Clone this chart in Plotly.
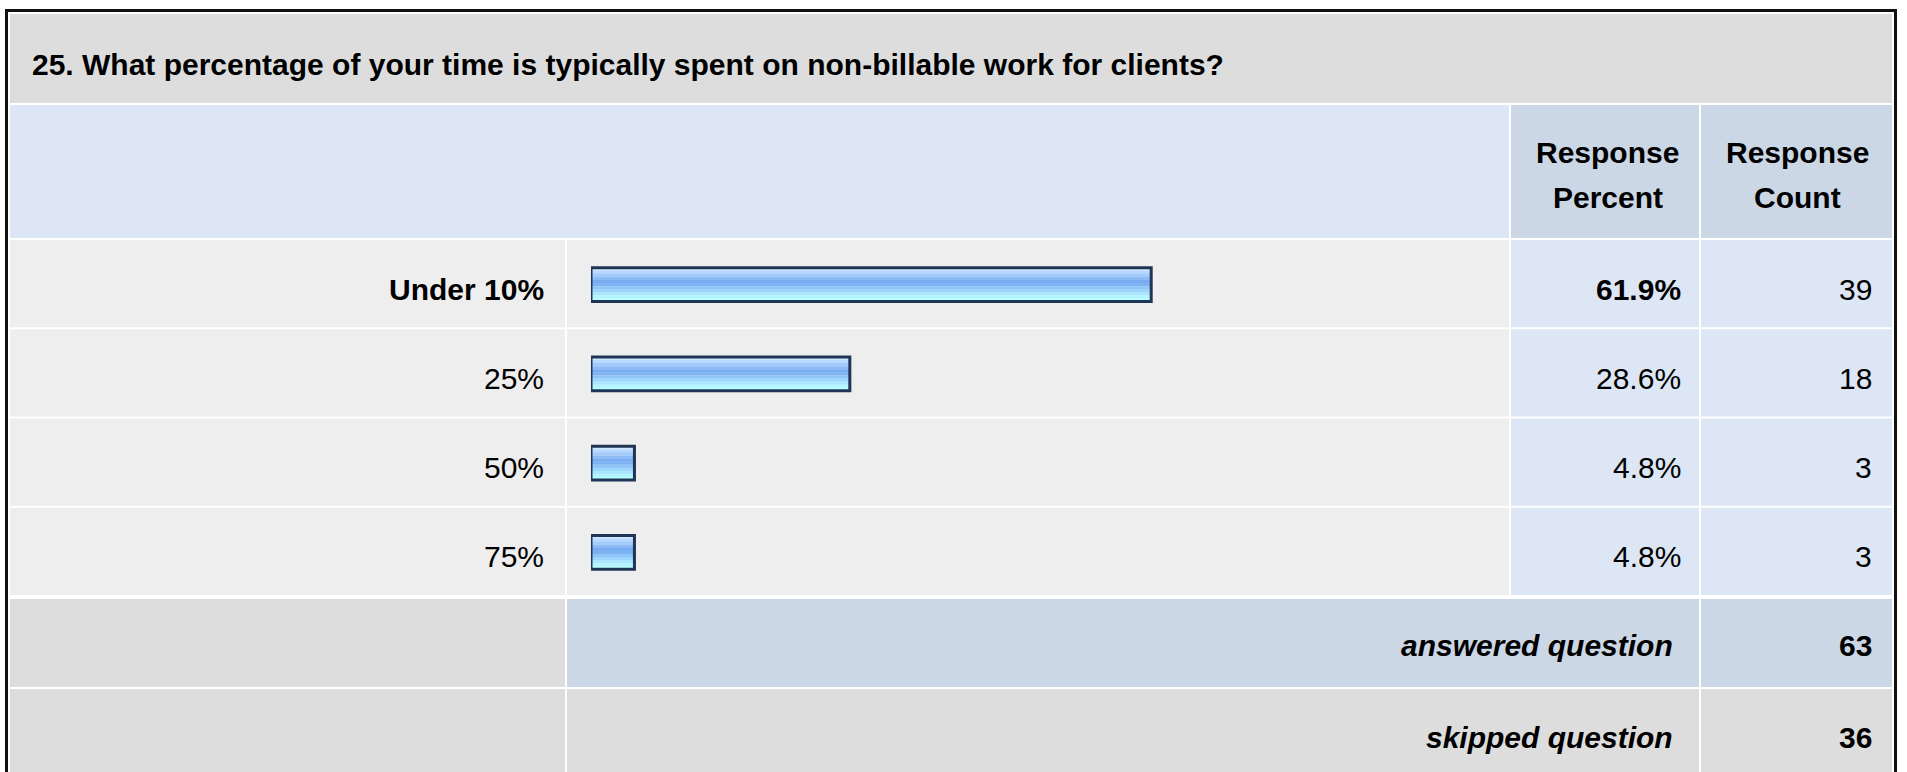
import plotly.graph_objects as go

# ---------------- data ----------------
question = "25. What percentage of your time is typically spent on non-billable work for clients?"
categories = ["Under 10%", "25%", "50%", "75%"]
percents = [61.9, 28.6, 4.8, 4.8]
counts = [39, 18, 3, 3]
answered_count = 63
skipped_count = 36
header_percent = ["Response", "Percent"]
header_count = ["Response", "Count"]

# ---------------- layout helpers ----------------
W, H = 1907, 772
FONT = "Liberation Sans, Arial, sans-serif"
FS = 30


def px(x):
    return x / W


def py(y):
    return 1 - y / H


shapes = []


def cell(x0, y0, x1, y1, color):
    shapes.append(dict(type="rect", xref="paper", yref="paper",
                       x0=px(x0), x1=px(x1), y0=py(y1), y1=py(y0),
                       fillcolor=color, line=dict(width=0), layer="below"))


GRAY = "#DDDDDD"
LIGHT = "#EEEEEE"
BLUE = "#DCE6F4"
BLUE2 = "#CBD7E5"

# column edges
L0, L1 = 10, 565
B0, B1 = 567, 1509
P0, P1 = 1511, 1699
C0, C1 = 1701, 1892

# title row
cell(L0, 14, C1, 103, GRAY)
# header row
cell(L0, 105, B1, 238, BLUE)
cell(P0, 105, P1, 238, BLUE2)
cell(C0, 105, C1, 238, BLUE2)

ROW_TOP = 240
ROW_PITCH = 89.25
n = len(categories)
for i in range(n):
    t = ROW_TOP + i * ROW_PITCH
    b = t + ROW_PITCH - 2
    cell(L0, t, L1, b, LIGHT)
    cell(B0, t, B1, b, LIGHT)
    cell(P0, t, P1, b, BLUE)
    cell(C0, t, C1, b, BLUE)

# answered row
cell(L0, 599, L1, 687, GRAY)
cell(B0, 599, P1, 687, BLUE2)
cell(C0, 599, C1, 687, BLUE2)
# skipped row
cell(L0, 689, L1, 800, GRAY)
cell(B0, 689, P1, 800, GRAY)
cell(C0, 689, C1, 800, GRAY)

# outer border
shapes.append(dict(type="rect", xref="paper", yref="paper",
                   x0=px(6.5), x1=px(1895.5), y0=py(840), y1=py(10.5),
                   line=dict(color="#111111", width=3), fillcolor="rgba(0,0,0,0)",
                   layer="above"))

# ---------------- bars (gradient via stacked overlay bands) ----------------
band_colors = ["#CFE7FF", "#B8D9FF", "#A2CAFB", "#8DBBF6", "#78ABF1",
               "#7DB2F3", "#8EC4F8", "#9DD6FC", "#A9E6FF", "#B2F5FF", "#B8FEFF"]
BAR_W = 0.38
nb = len(band_colors)
bh = BAR_W / nb

fig = go.Figure()
for k, col in enumerate(band_colors):
    fig.add_trace(go.Bar(
        x=percents, y=categories, orientation="h",
        width=[bh * 1.06] * n, offset=[-BAR_W / 2 + k * bh] * n,
        marker=dict(color=col, line=dict(width=0)),
        hoverinfo="skip", showlegend=False))
fig.add_trace(go.Bar(
    x=percents, y=categories, orientation="h",
    width=[BAR_W] * n, offset=[-BAR_W / 2] * n,
    marker=dict(color="rgba(0,0,0,0)", line=dict(color="#1E3556", width=3)),
    hoverinfo="skip", showlegend=False))

# ---------------- texts ----------------
ann = []


def text(x, y, s, anchor, bold=False, italic=False, size=FS):
    if bold:
        s = "<b>" + s + "</b>"
    if italic:
        s = "<i>" + s + "</i>"
    ann.append(dict(xref="paper", yref="paper", x=px(x), y=py(y), text=s,
                    xanchor=anchor, yanchor="middle", showarrow=False,
                    font=dict(family=FONT, size=size, color="#000000")))


text(29.5, 64.5, question, "left", bold=True)
text(1607.5, 152, header_percent[0], "center", bold=True)
text(1607.5, 197, header_percent[1], "center", bold=True)
text(1797, 152, header_count[0], "center", bold=True)
text(1797, 197, header_count[1], "center", bold=True)

top_i = percents.index(max(percents))
for i in range(n):
    yc = ROW_TOP + i * ROW_PITCH + ROW_PITCH / 2 + 4.5
    b = (i == top_i)
    text(545.5, yc, categories[i], "right", bold=b)
    text(1682.5, yc, f"{percents[i]:.1f}%", "right", bold=b)
    text(1873.5, yc, str(counts[i]), "right")

text(1675, 645, "answered question", "right", bold=True, italic=True)
text(1873.5, 645, str(answered_count), "right", bold=True)
text(1675, 737, "skipped question", "right", bold=True, italic=True)
text(1873.5, 737, str(skipped_count), "right", bold=True)

fig.update_layout(
    width=W, height=H,
    margin=dict(l=0, r=0, t=0, b=0),
    paper_bgcolor="#FFFFFF", plot_bgcolor="rgba(0,0,0,0)",
    barmode="overlay",
    hovermode=False,
    shapes=shapes, annotations=ann,
    xaxis=dict(domain=[px(591), px(1496)], range=[0, 100], visible=False,
               fixedrange=True),
    yaxis=dict(domain=[py(ROW_TOP + n * ROW_PITCH), py(ROW_TOP)],
               type="category", categoryorder="array", categoryarray=categories,
               range=[n - 0.5, -0.5], visible=False, fixedrange=True),
    showlegend=False,
)

fig.write_html("out.html",
               config={"displayModeBar": False, "staticPlot": True},
               post_script="document.body.style.margin='0px';"
                           "document.body.style.overflow='hidden';")
